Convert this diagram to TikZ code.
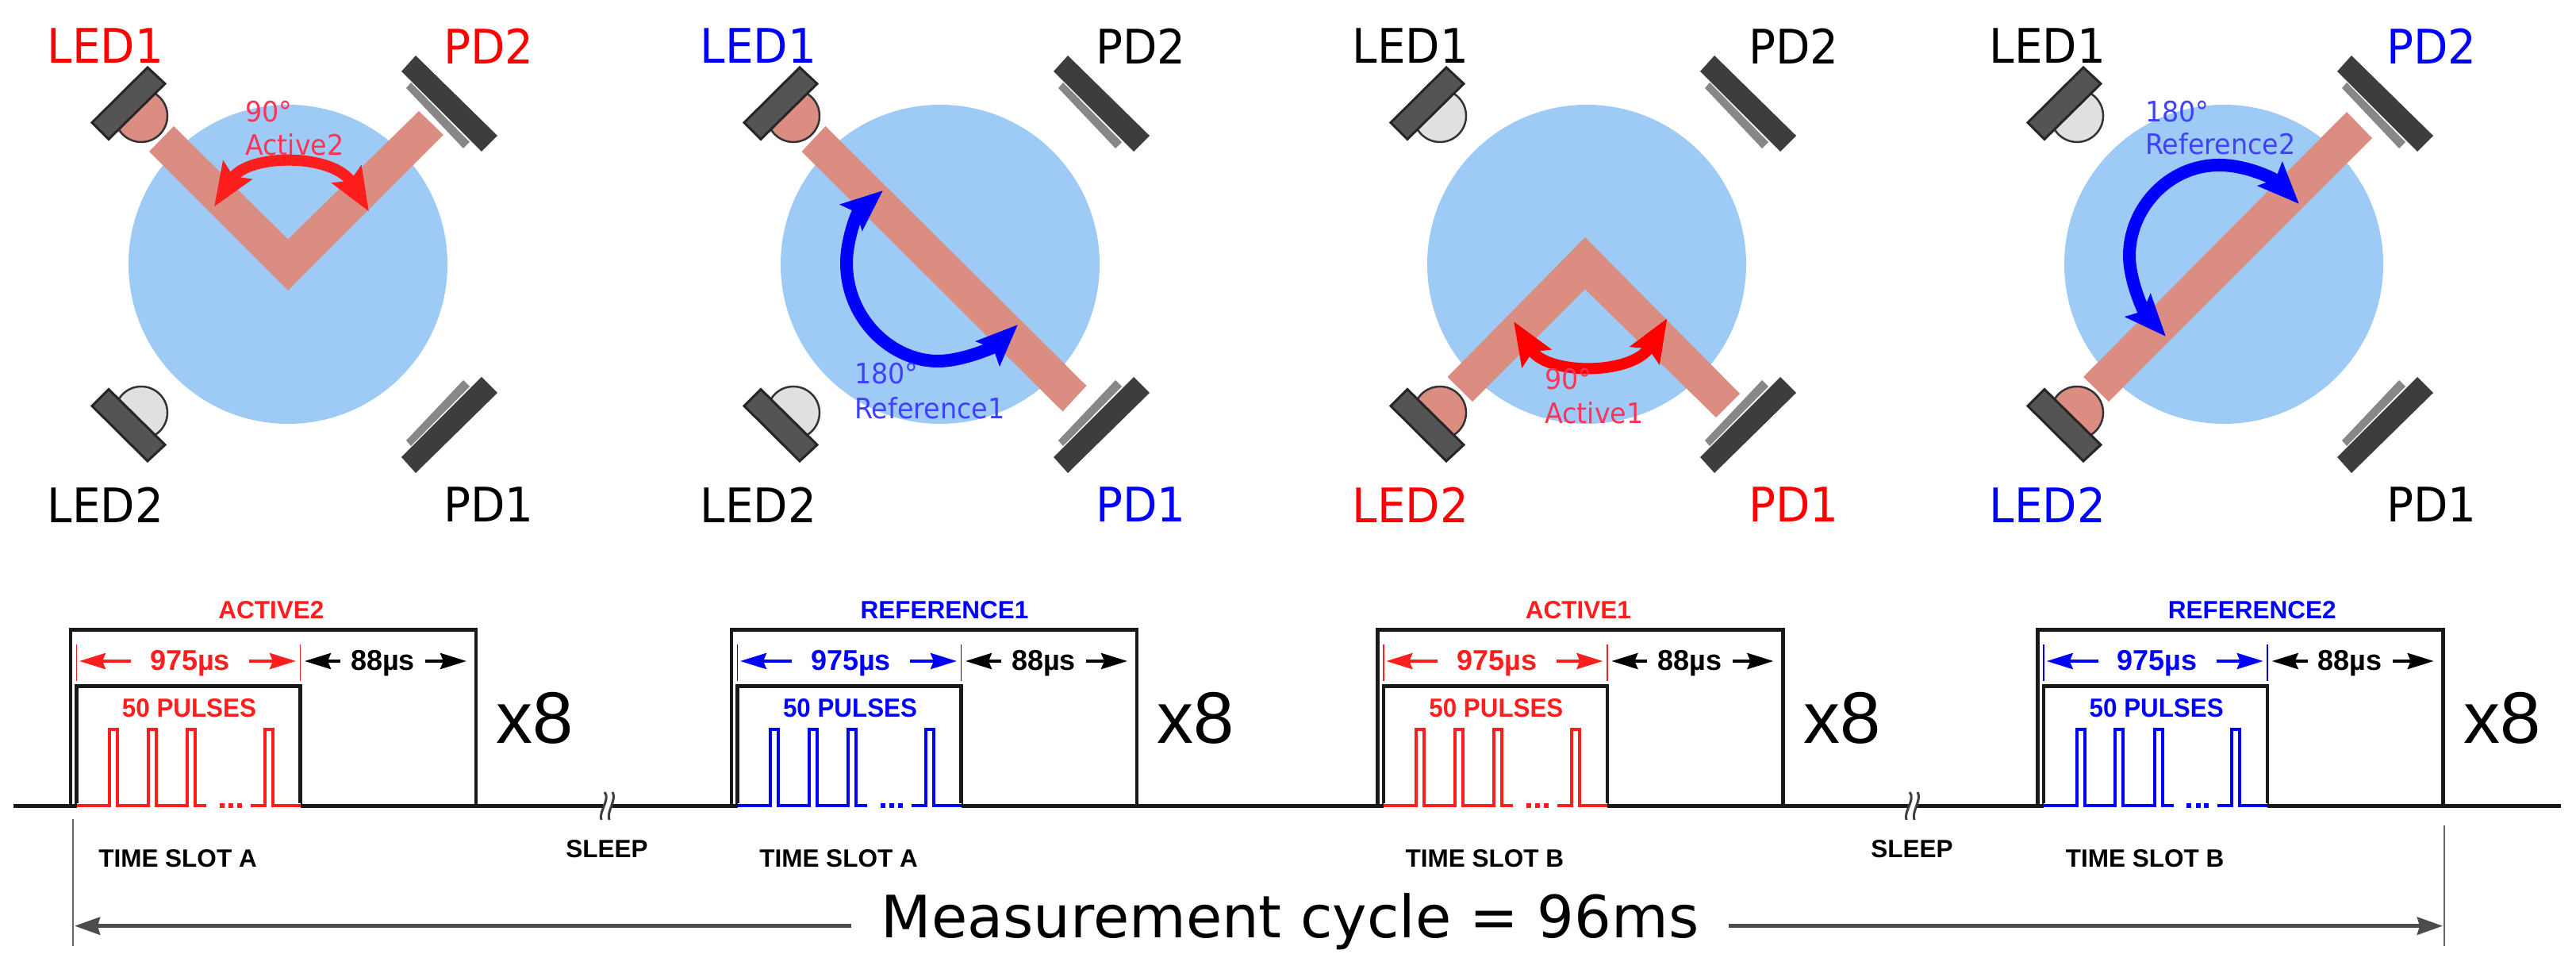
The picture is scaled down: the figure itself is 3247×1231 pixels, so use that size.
\documentclass[tikz,border=0pt]{standalone}
\usepackage{fontspec}
\usepackage{xcolor}
\usetikzlibrary{arrows.meta}
\newfontfamily\tahomafont{DejaVu Sans}
\newfontfamily\arialfont{Liberation Sans}
\definecolor{tissue}{HTML}{9ECBF5}
\definecolor{beamclr}{HTML}{DB8D82}
\definecolor{ledlit}{HTML}{DB8D82}
\definecolor{ledoff}{HTML}{E0E0E0}
\definecolor{anglered}{HTML}{FF3355}
\definecolor{angleblue}{HTML}{4040FF}
\definecolor{sigred}{HTML}{FF1E1E}
\tikzset{%
	ledbody/.style   = {draw=black!85, line width=3pt, fill=black!67},
	leddome/.style   = {draw=black!80, line width=2.5pt},
	pdbody/.style    = {fill=black!76},
	pdface/.style    = {fill=black!47},
	beam/.style      = {fill=beamclr},
	portname/.style  = {font=\tahomafont\fontsize{60}{60}\selectfont, xscale=.94, transform shape, inner sep=0pt},
	anglename/.style = {font=\tahomafont\fontsize{35.5}{36}\selectfont, xscale=.94, transform shape, inner sep=0pt, anchor=base west},
	swing/.style     = {line width=14pt, {Stealth[length=54pt,width=42pt,inset=9pt]}-{Stealth[length=54pt,width=42pt,inset=9pt]}},
	sweep/.style     = {line width=16pt, -{Stealth[length=52pt,width=42pt,inset=9pt]}},
	pulseline/.style = {draw=black!90, line width=4.5pt},
	timing/.style    = {font=\arialfont\bfseries\fontsize{36}{36}\selectfont, inner sep=0pt, text height=27pt, text depth=3pt},
	slotname/.style  = {font=\arialfont\bfseries\fontsize{31.5}{32}\selectfont, inner sep=0pt, anchor=base},
	dimarrow/.style  = {line width=4pt, -{Stealth[length=33pt,width=20pt,inset=4pt]}},
	cycleline/.style = {draw=black!70, line width=5pt, -{Stealth[length=32pt,width=22pt,inset=3pt]}},
	breakline/.style = {draw=black!75, line width=3pt},
}
% half dome and carrier of one led, upper left corner of the panel
\newcommand{\ledshape}[1]{%
	\draw[leddome,fill=#1] (-185,187) circle (33);
	\draw[ledbody] (-177,248) -- (-155,227.5) -- (-226,157.5) -- (-247,178.5) -- cycle;
}
\newcommand{\pdshape}{%
	\fill[pdface] (155,229) -- (149,222) -- (221,146) -- (229,154) -- cycle;
	\fill[pdbody] (161,263) -- (264,162) -- (244,142) -- (143,243) -- cycle;
}
\begin{document}
\begin{tikzpicture}[x=1pt,y=1pt]
	\useasboundingbox (0,0) rectangle (3247,1231);
	% the four optical panels
	\foreach \cx/\id/\ledoneclr/\ledtwoclr/\pdoneclr/\pdtwoclr/\domeone/\dometwo/\ledx/\pdx in {
		363/a/red/black/black/red/ledlit/ledoff/-230/253,
		1185/b/blue/black/blue/black/ledlit/ledoff/-229/253,
		2000/c/black/red/red/black/ledoff/ledlit/-222/261,
		2803/d/black/blue/black/blue/ledoff/ledlit/-222/262} {
		\begin{scope}[shift={(\cx,898)}]
			\fill[tissue] (0,0) circle (201);
			\ledshape{\domeone}
			\pdshape
			\begin{scope}[yscale=-1]
				\ledshape{\dometwo}
				\pdshape
			\end{scope}
			\node[portname,text=\ledoneclr] (led1\id) at (\ledx,275) {LED1};
			\node[portname,text=\pdtwoclr] (pd2\id) at (\pdx,275) {PD2};
			\node[portname,text=\ledtwoclr] (led2\id) at (\ledx,-303) {LED2};
			\node[portname,text=\pdoneclr] (pd1\id) at (\pdx,-303) {PD1};
		\end{scope}
	}
	% light paths and angles
	\begin{scope}[shift={(363,898)}]
		\fill[beam] (-144,174) -- (-175,142) -- (0,-33) -- (196,163) -- (165,193) -- (0,31.5) -- cycle;
		\draw[swing,sigred] (-93,72.6) .. controls (-50,140) and (58,140) .. (102,66.5);
	\end{scope}
	\begin{scope}[shift={(1185,898)}]
		\fill[beam] (-144.5,174) -- (-174.5,142) -- (154.5,-185.5) -- (184.5,-153) -- cycle;
		\draw[sweep,blue] (-118,2) .. controls (-118,30) and (-105,65) .. (-72,93);
		\draw[sweep,blue] (-118,2) .. controls (-118,-70) and (-60,-122) .. (-3,-122) .. controls (30,-122) and (70,-103) .. (98,-76);
	\end{scope}
	\begin{scope}[shift={(2000,898)}]
		\fill[beam] (-175.5,-142) -- (-2,34) -- (193,-163) -- (163,-193) -- (-2,-31.5) -- (-144,-173) -- cycle;
		\draw[swing,red] (-92,-72) .. controls (-50,-140) and (58,-140) .. (101.5,-68);
	\end{scope}
	\begin{scope}[shift={(2803,898)}]
		\fill[beam] (155,192) -- (187,159) -- (-145,-173) -- (-177,-142) -- cycle;
		\draw[sweep,blue] (-6,125) .. controls (30,125) and (65,107) .. (95,76);
		\draw[sweep,blue] (-6,125) .. controls (-70,125) and (-119,70) .. (-119,11) .. controls (-119,-22) and (-100,-61) .. (-73,-91);
	\end{scope}
	\node[anglename,text=anglered] (anga) at (309,1077) {90°};
	\node[anglename,text=anglered] (namea) at (309,1035) {Active2};
	\node[anglename,text=angleblue] (angb) at (1077,747) {180°};
	\node[anglename,text=angleblue] (nameb) at (1077,703) {Reference1};
	\node[anglename,text=anglered] (angc) at (1947,740) {90°};
	\node[anglename,text=anglered] (namec) at (1947,697) {Active1};
	\node[anglename,text=angleblue] (angd) at (2704,1077) {180°};
	\node[anglename,text=angleblue] (named) at (2704,1036) {Reference2};
	% time line
	\draw[pulseline,line width=5pt] (17,215.5) -- (3228,215.5);
	\foreach \gx/\id/\gclr/\gname/\gdx/\gslot in {
		89/a/sigred/ACTIVE2/253/A,
		922/b/blue/REFERENCE1/268.6/A,
		1736.4/c/sigred/ACTIVE1/253/B,
		2568.7/d/blue/REFERENCE2/270/B} {
		\begin{scope}[shift={(\gx,0)}]
			\draw[pulseline] (0,215.5) -- (0,437.7) -- (511,437.7) -- (511,215.5);
			\draw[pulseline] (7.5,215.5) -- (7.5,366.7) -- (289.5,366.7) -- (289.5,215.5);
			\fill[white] (7.5,212) rectangle (289.5,219);
			\draw[\gclr,line width=4pt] (7.5,215.5) -- (49,215.5) -- (49,311.5) -- (59,311.5) -- (59,215.5)
				-- (97.6,215.5) -- (97.6,311.5) -- (107.6,311.5) -- (107.6,215.5)
				-- (147,215.5) -- (147,311.5) -- (157,311.5) -- (157,215.5) -- (171,215.5);
			\draw[\gclr,line width=4pt] (226.6,215.5) -- (244.5,215.5) -- (244.5,311.5) -- (254.5,311.5) -- (254.5,215.5) -- (289.5,215.5);
			\foreach \dotx in {187.6,199,209.6}
				\fill[\gclr] (\dotx,212.5) rectangle +(6,6);
			\draw[\gclr,line width=1.6pt] (7.5,373) -- (7.5,419.3);
			\draw[\gclr,line width=1.6pt] (289.5,373) -- (289.5,419.3);
			\node[slotname,text=\gclr] (title\id) at (\gdx,451) {\gname};
			\node[timing,text=\gclr,inner xsep=24pt] (on\id) at (150.5,398) {975µs};
			\node[timing,inner xsep=13pt] (off\id) at (393.5,398) {88µs};
			\coordinate (onl\id) at (11,398);
			\coordinate (onr\id) at (284,398);
			\coordinate (offl\id) at (295,398);
			\coordinate (offr\id) at (499,398);
			\draw[dimarrow,\gclr] (on\id) -- (onl\id);
			\draw[dimarrow,\gclr] (on\id) -- (onr\id);
			\draw[dimarrow] (off\id) -- (offl\id);
			\draw[dimarrow] (off\id) -- (offr\id);
			\node[font=\arialfont\bfseries\fontsize{33}{33}\selectfont,text=\gclr,xscale=.95,transform shape,inner sep=0pt] (count\id) at (149.5,338.5) {50 PULSES};
			\node[slotname] (slot\id) at (135,138.3) {TIME SLOT \gslot};
			\node[font=\arialfont\fontsize{92}{92}\selectfont,inner sep=0pt,anchor=base] (rep\id) at (585.5,294) {x8};
		\end{scope}
	}
	% sleep gaps
	\foreach \sx/\id in {763/a,2408/b} {
		\begin{scope}[shift={(\sx,0)}]
			\fill[white] (1,233) .. controls (7,224) and (-9,208) .. (-5,198) -- (7,198) .. controls (3,208) and (15,224) .. (10,233) -- cycle;
			\draw[breakline] (-1,233) .. controls (7,224) and (-9,208) .. (-5,198);
			\draw[breakline] (9,233) .. controls (15,224) and (1,208) .. (5,198);
			\node[slotname] (sleep\id) at (2,150) {SLEEP};
		\end{scope}
	}
	% measurement cycle
	\draw[draw=black!60,line width=2.5pt] (92,199.3) -- (92,39.3);
	\draw[draw=black!60,line width=2.5pt] (3080.8,191) -- (3080.8,39.3);
	\node[font=\tahomafont\fontsize{73.6}{74}\selectfont,inner xsep=37pt,inner ysep=0pt,anchor=base] (cycle) at (1626,49.3) {Measurement cycle = 96ms};
	\coordinate (cyclel) at (94,64.3);
	\coordinate (cycler) at (3079,64.3);
	\draw[cycleline] (cycle.west |- cyclel) -- (cyclel);
	\draw[cycleline] (cycle.east |- cycler) -- (cycler);
\end{tikzpicture}
\end{document}
